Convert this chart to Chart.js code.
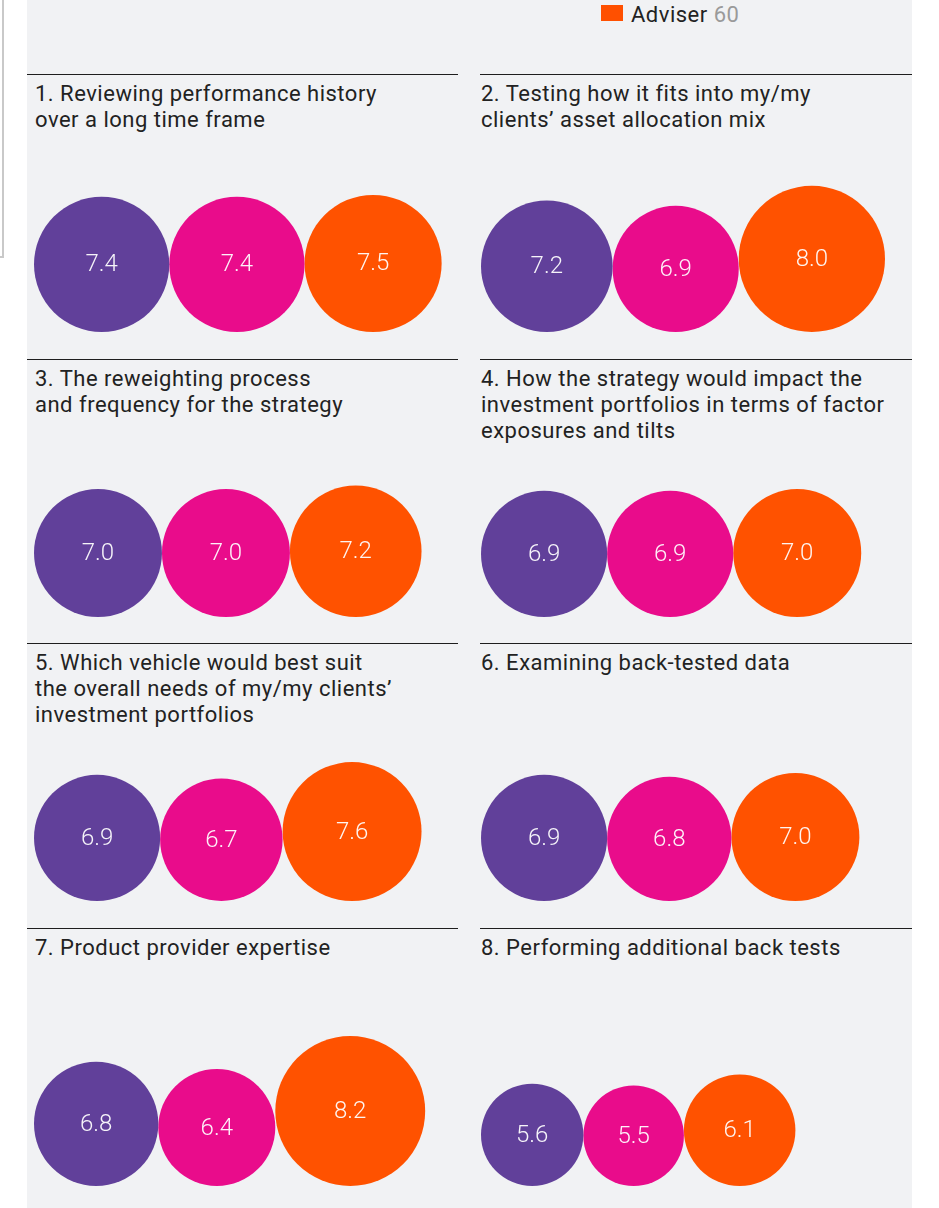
<!DOCTYPE html>
<html>
<head>
<meta charset="utf-8">
<script src="https://cdn.jsdelivr.net/npm/chart.js@4.4.1/dist/chart.umd.min.js"></script>
<style>
  html, body { margin: 0; padding: 0; background: #ffffff; }
  body { width: 939px; height: 1208px; position: relative; overflow: hidden; font-family: Roboto, "Noto Sans", sans-serif; }
  #panel { position: absolute; left: 27px; top: 0; width: 885px; height: 1208px; background: #f1f2f4; }
  .corner-v { position: absolute; left: 2px; top: 0; width: 2px; height: 258px; background: #c9c9c9; }
  .corner-h { position: absolute; left: 0; top: 256px; width: 4px; height: 2px; background: #c9c9c9; }
  .rule { position: absolute; height: 1px; background: #1e1e1e; }
  .title { position: absolute; font-size: 22px; letter-spacing: 0.5px; line-height: 26px; color: #222222; white-space: nowrap; }
  .legend { position: absolute; left: 601px; top: 1px; height: 26px; font-size: 22px; letter-spacing: 0.5px; line-height: 28px; color: #222222; white-space: nowrap; }
  .legend .sw { position: absolute; left: 0; top: 4px; width: 22px; height: 16px; background: #ff5000; }
  .legend .txt { position: absolute; left: 30px; top: 0; }
  .legend .n { color: #9a9a9a; }
  canvas { position: absolute; }
</style>
</head>
<body>
<div id="panel"></div>
<div class="corner-v"></div>
<div class="corner-h"></div>
<div class="legend"><span class="sw"></span><span class="txt" id="legendText"></span></div>
<script>
// ---- Data ----
const questions = [
  ["1. Reviewing performance history", "over a long time frame"],
  ["2. Testing how it fits into my/my", "clients\u2019 asset allocation mix"],
  ["3. The reweighting process", "and frequency for the strategy"],
  ["4. How the strategy would impact the", "investment portfolios in terms of factor", "exposures and tilts"],
  ["5. Which vehicle would best suit", "the overall needs of my/my clients\u2019", "investment portfolios"],
  ["6. Examining back-tested data"],
  ["7. Product provider expertise"],
  ["8. Performing additional back tests"]
];
const seriesNames = ["Group 1", "Group 2", "Adviser"];
const legendLabel = "Adviser";
const legendCount = 60;
const purpleValues = [7.4, 7.2, 7.0, 6.9, 6.9, 6.9, 6.8, 5.6];
const pinkValues = [7.4, 6.9, 7.0, 6.9, 6.7, 6.8, 6.4, 5.5];
const adviserValues = [7.5, 8.0, 7.2, 7.0, 7.6, 7.0, 8.2, 6.1];
const seriesColors = ["#61409a", "#e90c8b", "#ff5200"];

// ---- Layout ----
const PX_PER_UNIT = 9.14;
const ROW_STEP = 284.67;
const FIRST_RULE = 74;
const FIRST_BASE = 332;
const CW = 424, CH = 170;

document.getElementById('legendText').innerHTML = legendLabel + ' <span class="n">' + legendCount + '</span>';

const valueLabels = {
  id: 'valueLabels',
  afterDatasetsDraw(chart) {
    const ctx = chart.ctx;
    ctx.save();
    ctx.fillStyle = 'rgba(255,255,255,0.94)';
    ctx.font = '300 24px Roboto, "Noto Sans", sans-serif';
    ctx.textAlign = 'center';
    ctx.textBaseline = 'middle';
    chart.data.datasets.forEach((ds, di) => {
      const meta = chart.getDatasetMeta(di);
      meta.data.forEach((el, i) => {
        ctx.fillText(ds.data[i].v.toFixed(1), el.x, el.y + 1);
      });
    });
    ctx.restore();
  }
};

const allSeries = [purpleValues, pinkValues, adviserValues];

questions.forEach((lines, k) => {
  const col = k % 2, row = Math.floor(k / 2);
  const ruleY = Math.round(FIRST_RULE + row * ROW_STEP);
  const baseY = Math.round(FIRST_BASE + row * ROW_STEP);

  const rule = document.createElement('div');
  rule.className = 'rule';
  rule.style.top = ruleY + 'px';
  rule.style.left = (col ? 480 : 27) + 'px';
  rule.style.width = (col ? 432 : 431) + 'px';
  document.body.appendChild(rule);

  const t = document.createElement('div');
  t.className = 'title';
  t.style.top = (ruleY + 7) + 'px';
  t.style.left = (col ? 481 : 35) + 'px';
  t.innerHTML = lines.join('<br>');
  document.body.appendChild(t);

  const cv = document.createElement('canvas');
  cv.width = CW; cv.height = CH;
  cv.style.width = CW + 'px'; cv.style.height = CH + 'px';
  cv.style.left = (col ? 481 : 34) + 'px';
  cv.style.top = (baseY - CH) + 'px';
  document.body.appendChild(cv);

  let offset = 0;
  const datasets = allSeries.map((arr, j) => {
    const v = arr[k];
    const pt = { x: offset + v, y: v, v: v };
    offset += 2 * v;
    return {
      label: seriesNames[j],
      data: [pt],
      backgroundColor: seriesColors[j],
      borderWidth: 0,
      clip: false,
      pointRadius: (c) => {
        const s = c.chart.scales.x;
        return s.getPixelForValue(c.raw.v) - s.getPixelForValue(0);
      },
      pointHoverRadius: (c) => {
        const s = c.chart.scales.x;
        return s.getPixelForValue(c.raw.v) - s.getPixelForValue(0);
      }
    };
  });

  new Chart(cv, {
    type: 'scatter',
    data: { datasets },
    options: {
      responsive: false,
      animation: false,
      devicePixelRatio: 1,
      events: [],
      layout: { padding: 0 },
      scales: {
        x: { type: 'linear', display: false, bounds: 'data', min: 0, max: CW / PX_PER_UNIT },
        y: { type: 'linear', display: false, bounds: 'data', min: 0, max: CH / PX_PER_UNIT }
      },
      plugins: { legend: { display: false }, tooltip: { enabled: false } }
    },
    plugins: [valueLabels]
  });
});
</script>
</body>
</html>
